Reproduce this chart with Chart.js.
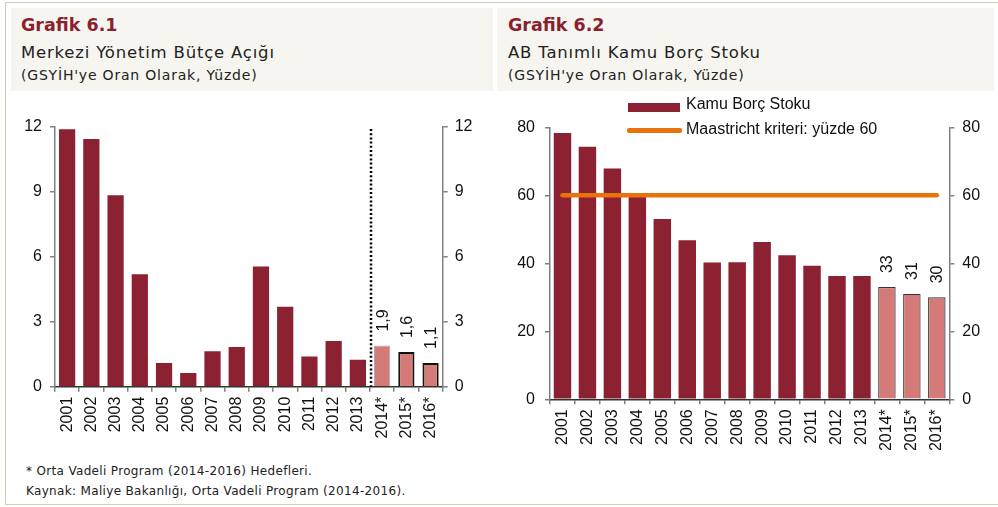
<!DOCTYPE html>
<html><head><meta charset="utf-8">
<script src="https://cdn.jsdelivr.net/npm/chart.js@4.4.0/dist/chart.umd.min.js"></script>
<style>
html,body{margin:0;padding:0;background:#fff;width:998px;height:507px;overflow:hidden;}
#frame{position:absolute;left:5px;top:2px;width:1000px;height:503px;border:1.5px solid #d8ccb0;box-sizing:border-box;}
.panel{position:absolute;top:8px;height:83px;background:#f6f5f0;}
.t1{position:absolute;font-family:"DejaVu Sans",sans-serif;font-weight:bold;font-size:17.5px;color:#8b1f30;white-space:nowrap;}
.t2{position:absolute;font-family:"DejaVu Sans",sans-serif;font-size:16.5px;letter-spacing:0.8px;color:#222;white-space:nowrap;}
.t3{position:absolute;font-family:"DejaVu Sans",sans-serif;font-size:14px;letter-spacing:0.8px;color:#222;white-space:nowrap;}
.foot{position:absolute;font-family:"DejaVu Sans",sans-serif;font-size:12px;letter-spacing:0.33px;color:#222;white-space:nowrap;left:26px;}
canvas{position:absolute;}
.leg{position:absolute;font-family:"Liberation Sans",Arial,sans-serif;font-size:16px;color:#111;white-space:nowrap;}
</style></head>
<body>
<div id="frame"></div>
<div class="panel" style="left:11px;width:482px;"></div>
<div class="panel" style="left:497px;width:497px;"></div>
<div class="t1" style="left:21px;top:15px;">Grafik 6.1</div>
<div class="t2" style="left:21px;top:43px;">Merkezi Yönetim Bütçe Açığı</div>
<div class="t3" style="left:21px;top:67px;">(GSYİH'ye Oran Olarak, Yüzde)</div>
<div class="t1" style="left:508px;top:15px;">Grafik 6.2</div>
<div class="t2" style="left:508px;top:43px;">AB Tanımlı Kamu Borç Stoku</div>
<div class="t3" style="left:508px;top:67px;">(GSYİH'ye Oran Olarak, Yüzde)</div>
<canvas id="c1" width="488" height="355" style="left:5px;top:95px;"></canvas>
<canvas id="c2" width="498" height="355" style="left:495px;top:95px;"></canvas>
<div style="position:absolute;left:628px;top:103px;width:52px;height:9px;background:#8b2131;"></div>
<div class="leg" style="left:686px;top:95px;">Kamu Borç Stoku</div>
<div style="position:absolute;left:627px;top:128px;width:55px;height:4.5px;background:#e8720c;border-radius:2px;"></div>
<div class="leg" style="left:686px;top:120px;">Maastricht kriteri: yüzde 60</div>
<div class="foot" style="top:464px;">* Orta Vadeli Program (2014-2016) Hedefleri.</div>
<div class="foot" style="top:484px;">Kaynak: Maliye Bakanlığı, Orta Vadeli Program (2014-2016).</div>
<script>
// ---- data ----
const years = ["2001","2002","2003","2004","2005","2006","2007","2008","2009","2010","2011","2012","2013","2014*","2015*","2016*"];
const budgetDeficit = [11.9, 11.45, 8.85, 5.2, 1.1, 0.63, 1.64, 1.83, 5.55, 3.7, 1.4, 2.11, 1.25, 1.9, 1.6, 1.1];
const debtStock = [78.3, 74.3, 67.9, 59.6, 53.0, 46.8, 40.2, 40.3, 46.3, 42.4, 39.3, 36.3, 36.3, 33, 31, 30];
const maastricht = [60, 60, 60, 60, 60, 60, 60, 60, 60, 60, 60, 60, 60, 60, 60, 60];
const ticks1 = [0, 3, 6, 9, 12];
const ticks2 = [0, 20, 40, 60, 80];

const DARK = '#8b2131', LIGHT = '#d47a78', ORANGE = '#e8720c';
const isFc = years.map(y => y.includes('*'));
const AX = '#808080';
const FONT = {family: '"Liberation Sans", Arial, sans-serif', size: 16};

const valueLabels = {
  id: 'valueLabels',
  afterDatasetsDraw(chart, args, opts) {
    if (!opts || !opts.show) return;
    const meta = chart.getDatasetMeta(opts.datasetIndex);
    const ds = chart.data.datasets[opts.datasetIndex].data;
    const ctx = chart.ctx;
    ctx.save();
    ctx.font = '16px "Liberation Sans", Arial, sans-serif';
    ctx.fillStyle = '#111';
    ctx.textAlign = 'left';
    ctx.textBaseline = 'middle';
    meta.data.forEach((bar, i) => {
      if (!isFc[i]) return;
      ctx.save();
      ctx.translate(bar.x + 1, bar.y - 14);
      ctx.rotate(-Math.PI / 2);
      ctx.fillText(opts.fmt(ds[i]), 0, 0);
      ctx.restore();
    });
    ctx.restore();
  }
};
const dotted = {
  id: 'dotted',
  afterDatasetsDraw(chart, args, opts) {
    if (!opts || !opts.show) return;
    const meta = chart.getDatasetMeta(0);
    const first = isFc.indexOf(true);
    const x = (meta.data[first - 1].x + meta.data[first].x) / 2 + 1;
    const y0 = chart.scales.y.getPixelForValue(12) + 2;
    const y1 = chart.chartArea.bottom;
    const ctx = chart.ctx;
    ctx.save();
    ctx.strokeStyle = '#000';
    ctx.lineWidth = 2.5;
    ctx.setLineDash([2, 2.2]);
    ctx.beginPath(); ctx.moveTo(x, y0); ctx.lineTo(x, y1); ctx.stroke();
    ctx.restore();
  }
};

function yScale(pos, max, step, width, pad) {
  return {
    type: 'linear', position: pos, min: 0, max: max,
    grid: {drawOnChartArea: false, tickLength: 5, color: AX, lineWidth: 1.5},
    border: {color: AX, width: 1.5},
    ticks: {stepSize: step, font: FONT, color: '#111', padding: pad},
    afterFit(s) { s.width = width; }
  };
}
function xScale(height) {
  return {
    type: 'category',
    grid: {display: true, drawOnChartArea: false, offset: true, tickLength: 5, color: AX, lineWidth: 1.5},
    border: {color: '#333', width: 1.5},
    ticks: {minRotation: 90, maxRotation: 90, font: FONT, color: '#111', padding: 5, autoSkip: false},
    afterFit(s) { s.height = height; }
  };
}

new Chart(document.getElementById('c1'), {
  type: 'bar',
  data: {
    labels: years,
    datasets: [{
      data: budgetDeficit,
      backgroundColor: isFc.map(f => f ? LIGHT : DARK),
      borderColor: years.map((y, i) => !isFc[i] ? DARK : (i === isFc.indexOf(true) ? '#aaa' : '#111')),
      borderWidth: years.map((y, i) => !isFc[i] ? 0 : (i === isFc.indexOf(true) ? 1 : 2)),
      borderSkipped: 'start',
      categoryPercentage: 1, barPercentage: 0.67
    }]
  },
  options: {
    responsive: false, animation: false,
    layout: {padding: {top: 32, left: 0, right: 0, bottom: 0}},
    plugins: {legend: {display: false}, tooltip: {enabled: false},
      valueLabels: {show: true, datasetIndex: 0, fmt: v => v.toFixed(1).replace('.', ',')},
      dotted: {show: true}},
    scales: {
      x: xScale(63.3),
      y: yScale('left', ticks1[ticks1.length - 1], ticks1[1] - ticks1[0], 50, 8),
      y2: yScale('right', ticks1[ticks1.length - 1], ticks1[1] - ticks1[0], 50.3, 7)
    }
  },
  plugins: [valueLabels, dotted]
});

new Chart(document.getElementById('c2'), {
  type: 'bar',
  data: {
    labels: years,
    datasets: [{
      type: 'bar', label: 'Kamu Borç Stoku', order: 2,
      data: debtStock,
      backgroundColor: isFc.map(f => f ? LIGHT : DARK),
      borderColor: isFc.map(f => f ? '#333' : DARK),
      borderWidth: isFc.map(f => f ? 1.2 : 0),
      categoryPercentage: 1, barPercentage: 0.7
    }, {
      type: 'line', label: 'Maastricht kriteri: yüzde 60', order: 1,
      data: maastricht, borderColor: ORANGE, borderWidth: 4.5,
      borderCapStyle: 'round', pointRadius: 0, fill: false
    }]
  },
  options: {
    responsive: false, animation: false,
    layout: {padding: {top: 32.3, left: 0, right: 0, bottom: 0}},
    plugins: {legend: {display: false}, tooltip: {enabled: false},
      valueLabels: {show: true, datasetIndex: 0, fmt: v => v.toFixed(0)}},
    scales: {
      x: xScale(50.7),
      y: yScale('left', ticks2[ticks2.length - 1], ticks2[1] - ticks2[0], 55, 10),
      y2: yScale('right', ticks2[ticks2.length - 1], ticks2[1] - ticks2[0], 43.7, 8)
    }
  },
  plugins: [valueLabels]
});
</script>
</body></html>
